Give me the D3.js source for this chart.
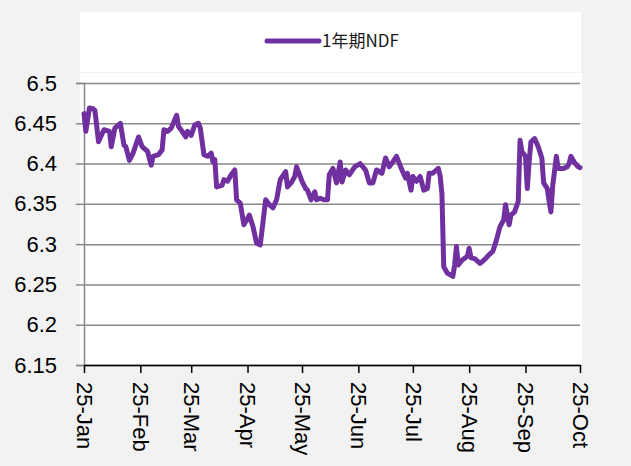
<!DOCTYPE html>
<html>
<head>
<meta charset="utf-8">
<script src="https://cdn.jsdelivr.net/npm/d3@7"></script>
<style>
  body { margin: 0; background: #f2f2f2; }
  svg { display: block; }
</style>
</head>
<body>
<svg width="631" height="466"></svg>
<script>
// series: 1年期NDF
const seriesName = '1年期NDF'
const dates = [
  '2013-01-25','2013-01-26','2013-01-28','2013-01-30','2013-01-31','2013-02-02','2013-02-05','2013-02-08',
  '2013-02-09','2013-02-11','2013-02-14','2013-02-16','2013-02-17','2013-02-19','2013-02-21','2013-02-24',
  '2013-02-26','2013-02-28','2013-03-01','2013-03-03','2013-03-04','2013-03-07','2013-03-09','2013-03-10',
  '2013-03-12','2013-03-14','2013-03-17','2013-03-18','2013-03-20','2013-03-22','2013-03-23','2013-03-25',
  '2013-03-27','2013-03-29','2013-03-30','2013-04-01','2013-04-03','2013-04-05','2013-04-06','2013-04-07',
  '2013-04-08','2013-04-11','2013-04-12','2013-04-14','2013-04-16','2013-04-18','2013-04-19','2013-04-21',
  '2013-04-23','2013-04-25','2013-04-26','2013-04-28','2013-04-30','2013-05-02','2013-05-05','2013-05-07',
  '2013-05-09','2013-05-11','2013-05-13','2013-05-16','2013-05-17','2013-05-19','2013-05-21','2013-05-22',
  '2013-05-24','2013-05-25','2013-05-27','2013-05-28','2013-05-30','2013-06-01','2013-06-02','2013-06-04',
  '2013-06-06','2013-06-08','2013-06-09','2013-06-11','2013-06-13','2013-06-15','2013-06-16','2013-06-18',
  '2013-06-20','2013-06-23','2013-06-26','2013-06-29','2013-07-01','2013-07-03','2013-07-05','2013-07-08',
  '2013-07-10','2013-07-12','2013-07-14','2013-07-16','2013-07-19','2013-07-21','2013-07-22','2013-07-24',
  '2013-07-25','2013-07-27','2013-07-29','2013-07-31','2013-08-02','2013-08-03','2013-08-05','2013-08-08',
  '2013-08-09','2013-08-10','2013-08-11','2013-08-13','2013-08-16','2013-08-17','2013-08-18','2013-08-19',
  '2013-08-21','2013-08-24','2013-08-25','2013-08-26','2013-08-28','2013-08-31','2013-09-01','2013-09-03',
  '2013-09-05','2013-09-07','2013-09-09','2013-09-11','2013-09-13','2013-09-14','2013-09-16','2013-09-17',
  '2013-09-19','2013-09-21','2013-09-22','2013-09-23','2013-09-25','2013-09-26','2013-09-27','2013-09-28',
  '2013-09-30','2013-10-02','2013-10-04','2013-10-05','2013-10-07','2013-10-08','2013-10-09','2013-10-10',
  '2013-10-12','2013-10-13','2013-10-16','2013-10-18','2013-10-19','2013-10-20','2013-10-22','2013-10-24',
  '2013-10-25'
]
const values = [
  6.462, 6.440, 6.469, 6.468, 6.466, 6.427, 6.442, 6.440,
  6.421, 6.444, 6.450, 6.423, 6.421, 6.404, 6.413, 6.433,
  6.421, 6.417, 6.415, 6.398, 6.409, 6.411, 6.417, 6.442,
  6.440, 6.444, 6.460, 6.446, 6.440, 6.433, 6.440, 6.435,
  6.448, 6.450, 6.444, 6.411, 6.409, 6.413, 6.402, 6.405,
  6.371, 6.373, 6.380, 6.378, 6.386, 6.392, 6.355, 6.351,
  6.324, 6.332, 6.336, 6.322, 6.301, 6.299, 6.355, 6.349,
  6.345, 6.355, 6.380, 6.390, 6.371, 6.376, 6.384, 6.396,
  6.384, 6.378, 6.369, 6.367, 6.355, 6.365, 6.355, 6.357,
  6.355, 6.355, 6.386, 6.394, 6.376, 6.402, 6.377, 6.392,
  6.386, 6.396, 6.400, 6.392, 6.376, 6.376, 6.392, 6.388,
  6.407, 6.396, 6.402, 6.409, 6.392, 6.382, 6.388, 6.367,
  6.384, 6.378, 6.384, 6.367, 6.369, 6.388, 6.388, 6.394,
  6.385, 6.363, 6.272, 6.264, 6.260, 6.274, 6.297, 6.274,
  6.280, 6.285, 6.295, 6.283, 6.282, 6.276, 6.278, 6.282,
  6.287, 6.291, 6.305, 6.322, 6.330, 6.349, 6.324, 6.336,
  6.340, 6.353, 6.429, 6.415, 6.409, 6.369, 6.402, 6.427,
  6.431, 6.421, 6.407, 6.376, 6.369, 6.353, 6.340, 6.373,
  6.409, 6.394, 6.394, 6.396, 6.400, 6.409, 6.401, 6.396,
  6.395
]
const xTickDates = ['2013-01-25','2013-02-25','2013-03-25','2013-04-25','2013-05-25',
                    '2013-06-25','2013-07-25','2013-08-25','2013-09-25','2013-10-25']
const xTickLabels = ['25-Jan','25-Feb','25-Mar','25-Apr','25-May','25-Jun','25-Jul','25-Aug','25-Sep','25-Oct']
const yTicks = [6.15, 6.2, 6.25, 6.3, 6.35, 6.4, 6.45, 6.5]
const yTickLabels = ['6.15','6.2','6.25','6.3','6.35','6.4','6.45','6.5']

const parse = d3.timeParse('%Y-%m-%d')
const data = dates.map((d, i) => ({date: parse(d), value: values[i]}))
const tickDates = xTickDates.map(parse)

const svg = d3.select('svg'),
    margin = {top: 83, right: 51, bottom: 101, left: 84},
    width = +svg.attr('width') - margin.left - margin.right,
    height = +svg.attr('height') - margin.top - margin.bottom,
    font = '"Liberation Sans", Arial, sans-serif',
    purple = '#7030a0',
    grey = '#898989'

const x = d3.scaleTime().domain([tickDates[0], tickDates[tickDates.length - 1]]).range([0, width])
const y = d3.scaleLinear().domain([6.15, 6.5]).range([height, 0])

// legend box
svg.append('rect').attr('x', 80).attr('y', 12).attr('width', 501).attr('height', 60).attr('fill', '#fff')
svg.append('line').attr('x1', 267).attr('x2', 319).attr('y1', 41).attr('y2', 41)
    .attr('stroke', purple).attr('stroke-width', 5).attr('stroke-linecap', 'round')
svg.append('text').attr('x', 322).attr('y', 41).attr('dy', '0.35em')
    .attr('font-family', '"Noto Sans CJK SC", sans-serif').attr('font-size', 17).attr('fill', '#1a1a1a')
    .text(seriesName)

// plot area
svg.append('rect').attr('x', 80).attr('y', 73).attr('width', 502).attr('height', height + 9).attr('fill', '#fff')

const g = svg.append('g').attr('transform', `translate(${margin.left}, ${margin.top})`)

// gridlines
g.append('g')
    .attr('class', 'grid')
    .call(d3.axisLeft(y).tickValues(yTicks).tickSize(-width).tickFormat(''))
    .call(s => s.select('.domain').remove())
    .selectAll('line').attr('stroke', grey).attr('stroke-width', 1.5)

// y axis
const yAxis = g.append('g')
    .attr('class', 'axis axis-y')
    .call(d3.axisLeft(y).tickValues(yTicks).tickSize(8).tickPadding(19)
        .tickFormat((d, i) => yTickLabels[i]))
yAxis.select('.domain').attr('stroke', grey).attr('stroke-width', 1.5)
yAxis.selectAll('.tick line').attr('stroke', grey).attr('stroke-width', 1.5)
yAxis.selectAll('text').attr('font-family', font).attr('font-size', 22).attr('fill', '#000')

// line
g.append('path')
    .datum(data)
    .attr('fill', 'none')
    .attr('stroke', purple)
    .attr('stroke-width', 5)
    .attr('stroke-linejoin', 'round')
    .attr('stroke-linecap', 'round')
    .attr('d', d3.line().x(d => x(d.date)).y(d => y(d.value)))

// x axis
const xAxis = g.append('g')
    .attr('class', 'axis axis-x')
    .attr('transform', `translate(0, ${height})`)
    .call(d3.axisBottom(x).tickValues(tickDates).tickSize(8).tickSizeOuter(0)
        .tickFormat((d, i) => xTickLabels[i]))
xAxis.select('.domain').attr('stroke', '#000').attr('stroke-width', 1.5)
xAxis.selectAll('.tick line').attr('stroke', '#000').attr('stroke-width', 1.5)
xAxis.selectAll('text')
    .attr('font-family', font).attr('font-size', 22).attr('fill', '#000')
    .attr('text-anchor', 'start')
    .attr('transform', 'rotate(90)')
    .attr('x', 17).attr('y', 0).attr('dy', '0.35em')
</script>
</body>
</html>
